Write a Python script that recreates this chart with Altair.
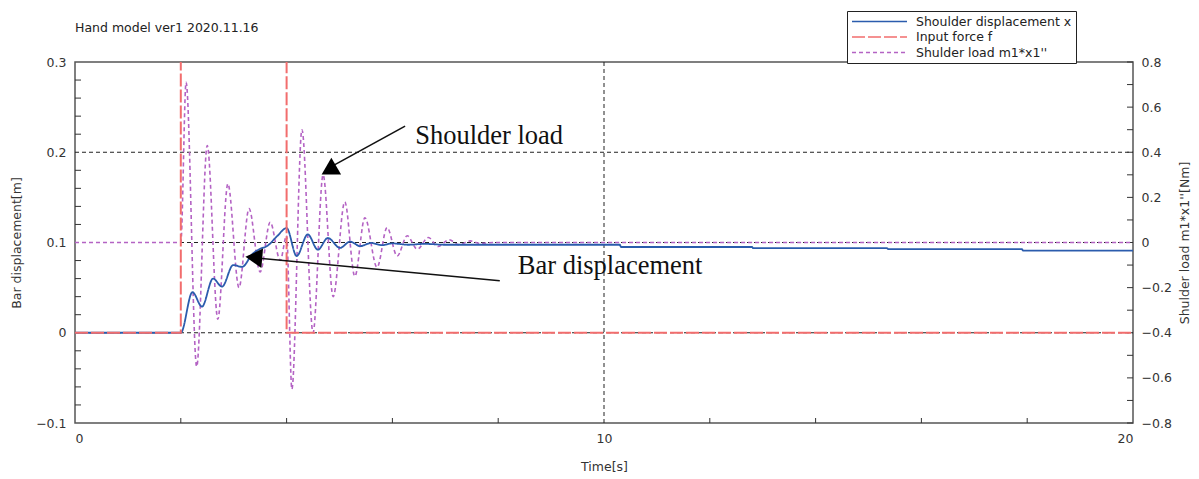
import altair as alt
import pandas as pd

# ---------------- data ----------------
series = ["Shoulder displacement x", "Input force f", "Shulder load m1*x1''"]

# Shoulder displacement x [m] (left axis)
blue_t = [0, 2.0, 2.22, 2.40, 2.61, 2.78, 2.99, 3.16, 3.35, 3.50, 3.63, 3.82, 4.00,
          4.19, 4.40, 4.59, 4.78, 5.01, 5.20, 5.39, 5.60, 5.80, 6.00, 6.30, 6.60,
          7.00, 10.30, 10.32, 12.80, 12.82, 15.35, 15.37, 17.90, 17.92, 20.0]
blue_x = [0, 0, 0.045, 0.029, 0.060, 0.051, 0.075, 0.073, 0.087, 0.093, 0.096, 0.107, 0.116,
          0.085, 0.109, 0.092, 0.105, 0.094, 0.101, 0.096, 0.0995, 0.097, 0.099, 0.0975, 0.0985,
          0.0975, 0.0975, 0.095, 0.095, 0.0937, 0.0937, 0.0927, 0.0927, 0.0911, 0.0911]

# Input force f (pulse, runs off the top of the plot)
force_t = [0, 2, 2, 4, 4, 20]
force_f = [0, 0, 1, 1, 0, 0]

# Shoulder load m1*x1'' [Nm] (right axis)
mag_t = [0, 2.00, 2.10, 2.30, 2.50, 2.70, 2.89, 3.10, 3.29, 3.50, 3.69, 3.88, 4.00, 4.10,
         4.29, 4.50, 4.69, 4.88, 5.10, 5.29, 5.48, 5.71, 5.90, 6.09, 6.28, 6.47, 6.68,
         6.86, 7.07, 7.26, 7.47, 7.66, 7.90, 20]
mag_v = [0, 0, 0.71, -0.55, 0.43, -0.34, 0.26, -0.20, 0.15, -0.13, 0.09, -0.08, 0.03, -0.65,
         0.50, -0.40, 0.30, -0.24, 0.18, -0.15, 0.11, -0.11, 0.066, -0.06, 0.03, -0.03, 0.022,
         -0.018, 0.012, -0.01, 0.007, -0.004, 0, 0]

# axes / grid / ticks
x_labels = [0, 10, 20]
x_grid = [10]
x_minor = [2, 4, 6, 8, 12, 14, 16, 18]
yl_labels = [-0.1, 0, 0.1, 0.2, 0.3]
yl_grid = [0, 0.1, 0.2]
yl_minor = [-0.08, -0.06, -0.04, -0.02, 0.02, 0.04, 0.06, 0.08, 0.12, 0.14, 0.16, 0.18,
            0.22, 0.24, 0.26, 0.28]
yr_labels = [-0.8, -0.6, -0.4, -0.2, 0, 0.2, 0.4, 0.6, 0.8]
yr_minor = [-0.7, -0.5, -0.3, -0.1, 0.1, 0.3, 0.5, 0.7]

# annotations (time, left-axis units)
ann_text = ["Shoulder load", "Bar displacement"]
ann_tx = [6.43, 8.37]
ann_ty = [0.218, 0.074]
arrow_x0 = [6.24, 8.03]
arrow_y0 = [0.229, 0.0576]
arrow_x1 = [4.75, 3.30]
arrow_y1 = [0.181, 0.0836]
head_x = [4.80, 3.38]
head_y = [0.180, 0.0833]
head_angle = [240, 275]

title_text = "Hand model ver1 2020.11.16"

# ---------------- chart ----------------
W, H = 1058, 361
colors = ["#2b5cad", "#f26d6d", "#b463c4"]
dashes = [[1, 0], [13, 3], [4, 3]]
FONT = "DejaVu Sans"
FS = 12.5

xs = alt.Scale(domain=[0, 20], nice=False, zero=False)
yl = alt.Scale(domain=[-0.1, 0.3], nice=False, zero=False)
yr = alt.Scale(domain=[-0.8, 0.8], nice=False, zero=False)
x_axis = alt.Axis(values=x_labels, format="~g", title="Time[s]", labelPadding=9,
                  titlePadding=16)

color_enc = alt.Color("s:N", scale=alt.Scale(domain=series, range=colors), title=None)
dash_enc = alt.StrokeDash("s:N", scale=alt.Scale(domain=series, range=dashes), title=None)

blue_df = pd.DataFrame({"t": blue_t, "v": blue_x, "s": series[0]})
force_df = pd.DataFrame({"t": force_t, "v": force_f, "s": series[1]})
mag_df = pd.DataFrame({"t": mag_t, "v": mag_v, "s": series[2]})

hgrid = alt.Chart(pd.DataFrame({"g": yl_grid})).mark_rule(
    color="#222", strokeDash=[4, 3], strokeWidth=1
).encode(
    y=alt.Y("g:Q", scale=yl, axis=alt.Axis(
        values=yl_labels, format="~g", title="Bar displacement[m]", orient="left",
        labelPadding=9, titlePadding=12)),
    x=alt.value(0), x2=alt.value(W),
)

vgrid = alt.Chart(pd.DataFrame({"g": x_grid})).mark_rule(
    color="#222", strokeDash=[4, 3], strokeWidth=1
).encode(
    x=alt.X("g:Q", scale=xs, axis=x_axis),
    y=alt.value(0), y2=alt.value(H),
)

xticks = alt.Chart(pd.DataFrame({"g": x_minor})).mark_rule(color="#333").encode(
    x=alt.X("g:Q", scale=xs, axis=x_axis), y=alt.value(H), y2=alt.value(H - 5))
lticks = alt.Chart(pd.DataFrame({"k": yl_minor})).mark_rule(color="#333").encode(
    y=alt.Y("k:Q", scale=yl, axis=None), x=alt.value(0), x2=alt.value(6))
rticks = alt.Chart(pd.DataFrame({"k": yr_minor + yr_labels})).mark_rule(color="#333").encode(
    y=alt.Y("k:Q", scale=yr, axis=None), x=alt.value(W), x2=alt.value(W - 6))

mag = alt.Chart(mag_df).mark_line(strokeWidth=1.6, clip=True, interpolate="monotone").encode(
    x=alt.X("t:Q", scale=xs, axis=x_axis),
    y=alt.Y("v:Q", scale=yr, axis=alt.Axis(
        values=yr_labels, format="~g", orient="right", title="Shulder load m1*x1''[Nm]",
        titleAngle=270, labelPadding=8, titlePadding=20)),
    color=color_enc, strokeDash=dash_enc,
)

blue = alt.Chart(blue_df).mark_line(strokeWidth=1.8, clip=True, interpolate="monotone").encode(
    x=alt.X("t:Q", scale=xs, axis=x_axis),
    y=alt.Y("v:Q", scale=yl, axis=None),
    color=color_enc, strokeDash=dash_enc,
)

force = alt.Chart(force_df).transform_window(o="row_number()").mark_line(
    strokeWidth=2, clip=True
).encode(
    x=alt.X("t:Q", scale=xs, axis=x_axis),
    y=alt.Y("v:Q", scale=yl, axis=None),
    color=color_enc, strokeDash=dash_enc, order="o:Q",
)

ann_df = pd.DataFrame({"txt": ann_text, "tx": ann_tx, "ty": ann_ty,
                       "x0": arrow_x0, "y0": arrow_y0, "x1": arrow_x1, "y1": arrow_y1,
                       "hx": head_x, "hy": head_y, "ha": head_angle})

arrows = alt.Chart(ann_df).mark_rule(color="#111", strokeWidth=1.6).encode(
    x=alt.X("x0:Q", scale=xs, axis=x_axis), x2="x1:Q",
    y=alt.Y("y0:Q", scale=yl, axis=None), y2="y1:Q")
heads = alt.Chart(ann_df).mark_point(shape="triangle-up", filled=True, color="#000",
                                     opacity=1, size=380).encode(
    x=alt.X("hx:Q", scale=xs, axis=x_axis),
    y=alt.Y("hy:Q", scale=yl, axis=None),
    angle=alt.Angle("ha:Q", scale=None))
texts = alt.Chart(ann_df).mark_text(font="Liberation Serif", fontSize=26.5, align="left",
                                    baseline="middle", color="#111").encode(
    x=alt.X("tx:Q", scale=xs, axis=x_axis),
    y=alt.Y("ty:Q", scale=yl, axis=None),
    text="txt:N")

title = alt.Chart(pd.DataFrame({"t": [title_text]})).mark_text(
    font=FONT, fontSize=FS, align="left", baseline="middle", color="#222"
).encode(x=alt.value(0), y=alt.value(-34), text="t:N")

chart = alt.layer(
    hgrid, vgrid, xticks, lticks, rticks, mag, blue, force, arrows, heads, texts, title
).resolve_scale(y="independent").properties(
    width=W, height=H,
    autosize=alt.AutoSizeParams(type="none"),
    padding={"left": 75, "top": 62, "right": 66, "bottom": 56},
).configure_view(
    stroke="#555", strokeWidth=1.5
).configure_axis(
    labelFont=FONT, labelFontSize=FS, labelColor="#333",
    titleFont=FONT, titleFontSize=FS, titleFontWeight="normal", titleColor="#333",
    ticks=False, tickSize=0, domain=False, grid=False,
).configure_legend(
    orient="none", legendX=772, legendY=-51, padding=4,
    strokeColor="#222", fillColor="white",
    symbolType="M-5,0H5", symbolSize=121, symbolStrokeWidth=1.5,
    symbolOffset=22, labelOffset=30,
    labelFont=FONT, labelFontSize=FS, labelColor="#222", rowPadding=2.5,
)

chart.save("out.html", embed_options={"renderer": "svg", "actions": False})
